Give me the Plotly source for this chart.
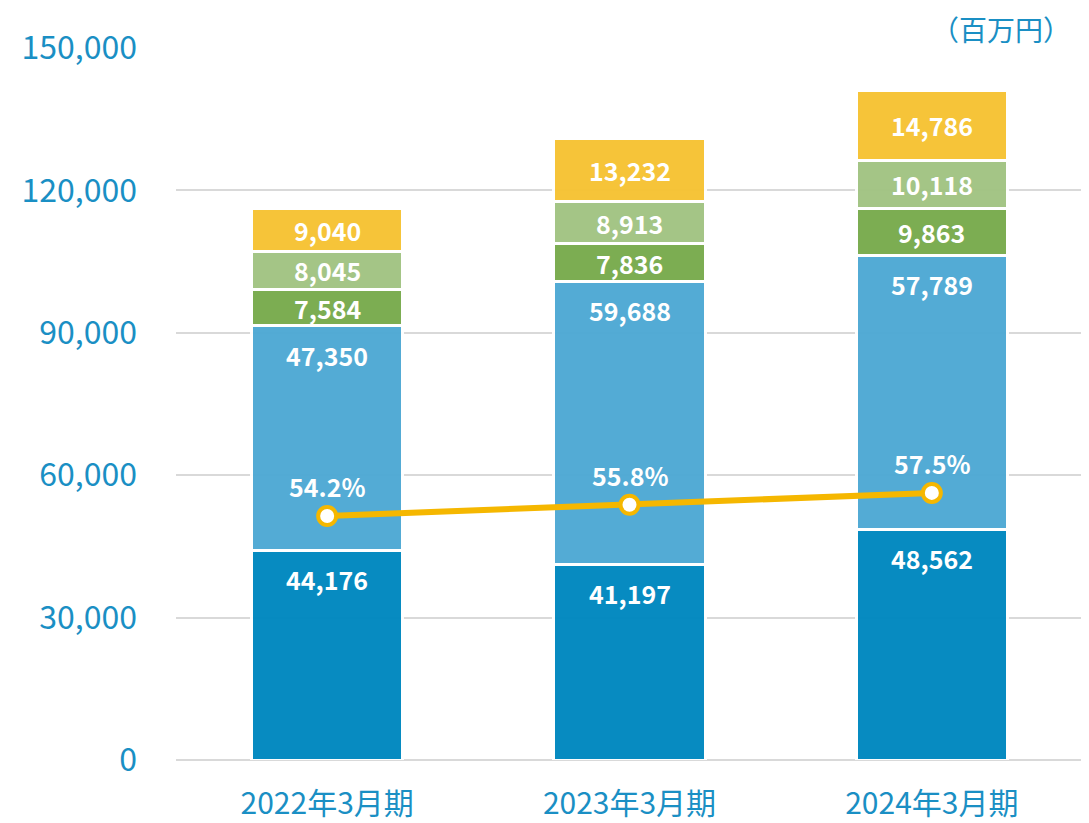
import plotly.graph_objects as go

# data
periods = ["2022年3月期", "2023年3月期", "2024年3月期"]
seg1 = [44176, 41197, 48562]
seg2 = [47350, 59688, 57789]
seg3 = [7584, 7836, 9863]
seg4 = [8045, 8913, 10118]
seg5 = [9040, 13232, 14786]
ratio = [54.2, 55.8, 57.5]

segments = [seg1, seg2, seg3, seg4, seg5]
colors = ["#0088c0", "#4ea9d4", "#78ab4d", "#a2c483", "#f6c333"]
font_family = "Noto Sans CJK JP"
tick_color = "#1a8fc4"

fig = go.Figure()

for vals, col in zip(segments, colors):
    fig.add_trace(go.Bar(
        x=periods, y=vals, marker_color=col, opacity=0.97,
        marker_line_color="white", marker_line_width=3,
        hoverinfo="skip", showlegend=False))

fig.add_trace(go.Scatter(
    x=periods, y=ratio, yaxis="y2", mode="lines+markers",
    line=dict(color="#f5b700", width=6),
    marker=dict(size=18, color="white", line=dict(color="#f5b700", width=4)),
    showlegend=False, hoverinfo="skip"))

# value labels
annotations = []
for i, p in enumerate(periods):
    base = 0
    for k, vals in enumerate(segments):
        v = vals[i]
        if k < 2:
            y, shift = base + v, -29
        else:
            y, shift = base + v / 2, 0
        annotations.append(dict(
            x=p, y=y, yshift=shift, text=f"{v:,}", showarrow=False,
            font=dict(family=font_family, size=25, color="white", weight="bold")))
        base += v
    annotations.append(dict(
        x=p, y=ratio[i], yref="y2", yshift=30, text=f"{ratio[i]}%", showarrow=False,
        font=dict(family=font_family, size=25, color="white", weight="bold")))

annotations.append(dict(
    x=0.988, y=1, xref="paper", yref="paper", xanchor="right", yanchor="middle",
    yshift=19, borderpad=0, text="（百万円）", showarrow=False,
    font=dict(family=font_family, size=28, color=tick_color)))

fig.update_layout(
    barmode="stack", bargap=0.5,
    width=1081, height=815,
    margin=dict(l=168, r=6, t=40, b=63),
    plot_bgcolor="white", paper_bgcolor="white",
    font=dict(family=font_family, color=tick_color),
    annotations=annotations,
    xaxis=dict(tickfont=dict(size=30, color=tick_color), showgrid=False,
               ticks="", ticklabelstandoff=23, automargin=False),
    yaxis=dict(range=[0, 150000], tickvals=[0, 30000, 60000, 90000, 120000, 150000],
               ticktext=["0", "30,000", "60,000", "90,000", "120,000", "150,000"],
               tickfont=dict(size=32, color=tick_color), showgrid=True,
               gridcolor="#d9d9d9", gridwidth=2, zeroline=True,
               zerolinecolor="#d9d9d9", zerolinewidth=2, ticklabelstandoff=38,
               automargin=False),
    yaxis2=dict(overlaying="y", range=[19.2, 121.3], visible=False),
)

fig.write_html("out.html")
